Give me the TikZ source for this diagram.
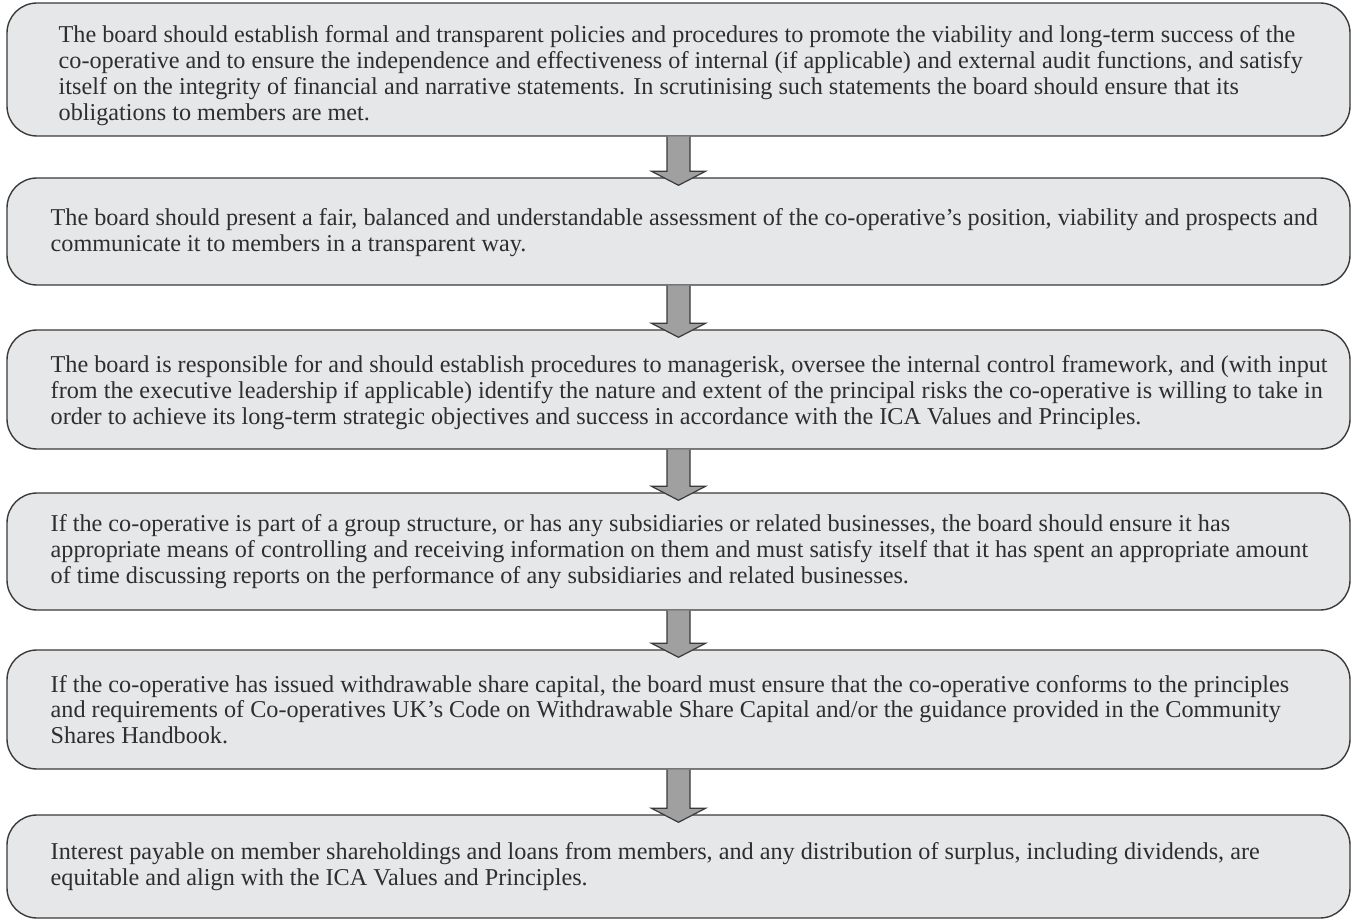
\documentclass[tikz,border=0pt]{standalone}
\usepackage{fontspec}
\setmainfont{Liberation Serif}
\usetikzlibrary{calc}
\definecolor{boxfill}{HTML}{E6E7E8}
\definecolor{boxline}{HTML}{3A3A3A}
\definecolor{arrowfill}{HTML}{A0A0A0}
\definecolor{textgray}{HTML}{2E2E2E}
\begin{document}
\begin{tikzpicture}[x=0.5pt, y=-0.5pt,
  stagebox/.style={draw=boxline, fill=boxfill, line width=0.7pt, rounded corners=15pt, minimum width=671.5pt, inner sep=0pt},
  stagetext/.style={anchor=west, inner sep=0pt, align=left, text=textgray, font=\fontsize{12.1}{12.9}\selectfont, xshift=22pt},
  flow/.style={draw=boxline, fill=arrowfill, line width=0.6pt}]
\useasboundingbox (0,0) rectangle (1355,920);
  % the six stages
  \node[stagebox, minimum height=66.5pt] (b1) at (678.5,69.5) {};
  \node[stagebox, minimum height=53.5pt] (b2) at (678.5,231.5) {};
  \node[stagebox, minimum height=59.5pt] (b3) at (678.5,389.5) {};
  \node[stagebox, minimum height=58.5pt] (b4) at (678.5,551.5) {};
  \node[stagebox, minimum height=59.5pt] (b5) at (678.5,709.5) {};
  \node[stagebox, minimum height=51.5pt] (b6) at (678.5,866.5) {};
  \node[stagetext, xshift=4pt, yshift=-3pt] (t1) at (b1.west) {The board should establish formal and transparent policies and procedures to promote the viability and long-term success of the\\
co-operative and to ensure the independence and effectiveness of internal (if applicable) and external audit functions, and satisfy\\
itself on the integrity of financial and narrative statements. In scrutinising such statements the board should ensure that its\\
obligations to members are met.};
  \node[stagetext, yshift=-0.5pt] (t2) at (b2.west) {The board should present a fair, balanced and understandable assessment of the co-operative’s position, viability and prospects and\\
communicate it to members in a transparent way.};
  \node[stagetext, yshift=-1.5pt] (t3) at (b3.west) {The board is responsible for and should establish procedures to managerisk, oversee the internal control framework, and (with input\\
from the executive leadership if applicable) identify the nature and extent of the principal risks the co-operative is willing to take in\\
order to achieve its long-term strategic objectives and success in accordance with the ICA Values and Principles.};
  \node[stagetext] (t4) at (b4.west) {If the co-operative is part of a group structure, or has any subsidiaries or related businesses, the board should ensure it has\\
appropriate means of controlling and receiving information on them and must satisfy itself that it has spent an appropriate amount\\
of time discussing reports on the performance of any subsidiaries and related businesses.};
  \node[stagetext] (t5) at (b5.west) {If the co-operative has issued withdrawable share capital, the board must ensure that the co-operative conforms to the principles\\
and requirements of Co-operatives UK’s Code on Withdrawable Share Capital and/or the guidance provided in the Community\\
Shares Handbook.};
  \node[stagetext] (t6) at (b6.west) {Interest payable on member shareholdings and loans from members, and any distribution of surplus, including dividends, are\\
equitable and align with the ICA Values and Principles.};
  % block arrows between stages
  \draw[flow] ($(b1.south)+(-11.5,0)$) -- ($(b2.north)+(-11.5,-6)$) -- ($(b2.north)+(-27,-6)$) -- ($(b2.north)+(0,8)$) -- ($(b2.north)+(27,-6)$) -- ($(b2.north)+(11.5,-6)$) -- ($(b1.south)+(11.5,0)$);
  \draw[flow] ($(b2.south)+(-11.5,0)$) -- ($(b3.north)+(-11.5,-6)$) -- ($(b3.north)+(-27,-6)$) -- ($(b3.north)+(0,8)$) -- ($(b3.north)+(27,-6)$) -- ($(b3.north)+(11.5,-6)$) -- ($(b2.south)+(11.5,0)$);
  \draw[flow] ($(b3.south)+(-11.5,0)$) -- ($(b4.north)+(-11.5,-6)$) -- ($(b4.north)+(-27,-6)$) -- ($(b4.north)+(0,8)$) -- ($(b4.north)+(27,-6)$) -- ($(b4.north)+(11.5,-6)$) -- ($(b3.south)+(11.5,0)$);
  \draw[flow] ($(b4.south)+(-11.5,0)$) -- ($(b5.north)+(-11.5,-6)$) -- ($(b5.north)+(-27,-6)$) -- ($(b5.north)+(0,8)$) -- ($(b5.north)+(27,-6)$) -- ($(b5.north)+(11.5,-6)$) -- ($(b4.south)+(11.5,0)$);
  \draw[flow] ($(b5.south)+(-11.5,0)$) -- ($(b6.north)+(-11.5,-6)$) -- ($(b6.north)+(-27,-6)$) -- ($(b6.north)+(0,8)$) -- ($(b6.north)+(27,-6)$) -- ($(b6.north)+(11.5,-6)$) -- ($(b5.south)+(11.5,0)$);
\end{tikzpicture}
\end{document}
